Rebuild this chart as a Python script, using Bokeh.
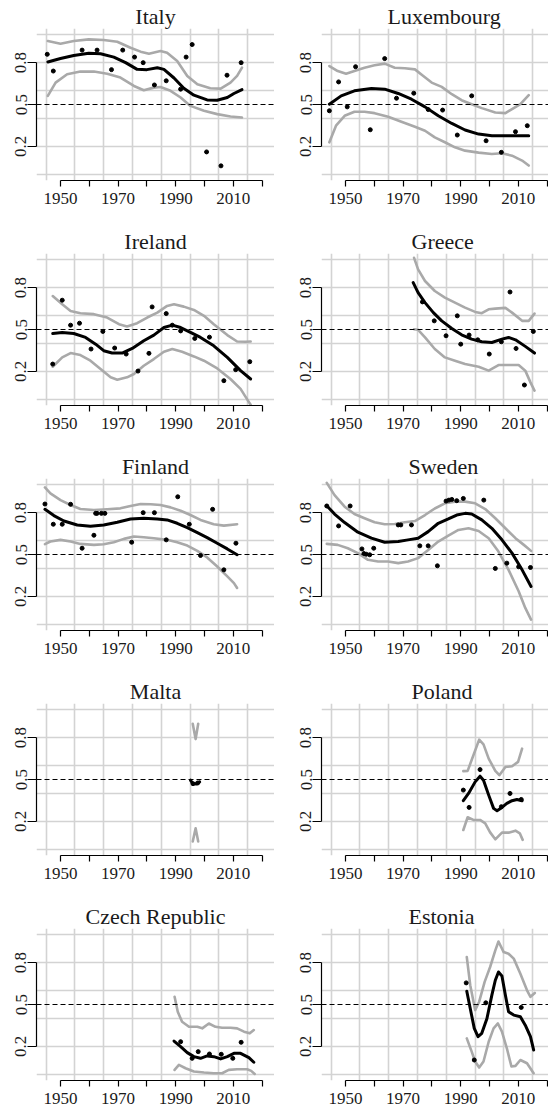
from bokeh.plotting import figure
from bokeh.models import FixedTicker, Span, Range1d
from bokeh.layouts import column, row
from bokeh.embed import file_html
from bokeh.resources import INLINE

countries = ["Italy", "Luxembourg", "Ireland", "Greece", "Finland", "Sweden",
             "Malta", "Poland", "Czech Republic", "Estonia"]

x_ticks = [1950, 1970, 1990, 2010]
x_minor = [1960, 1980, 2000, 2020]
y_ticks = [0.2, 0.5, 0.8]
x_grid = [1945, 1955, 1965, 1975, 1985, 1995, 2005, 2015, 2025]
y_grid = [0.0, 0.2, 0.4, 0.6, 0.8, 1.0]
ref_level = 0.5

# ---------------- Italy
italy_pts_x = [1945.4, 1947.5, 1957.5, 1962.7, 1967.7, 1971.6, 1975.7, 1978.7, 1982.6, 1986.7, 1991.7, 1993.6, 1995.7, 2000.7, 2005.7, 2007.8, 2012.7]
italy_pts_y = [0.86, 0.74, 0.89, 0.89, 0.75, 0.89, 0.84, 0.80, 0.64, 0.67, 0.61, 0.84, 0.93, 0.16, 0.06, 0.71, 0.80]
italy_fit_x = [1945.6, 1950, 1954.6, 1959.8, 1963.9, 1968.5, 1972.6, 1976.6, 1980, 1983.6, 1985.9, 1989.4, 1992.8, 1996.3, 2000.9, 2004.4, 2007.9, 2010.2, 2013]
italy_fit_y = [0.805, 0.83, 0.852, 0.867, 0.864, 0.84, 0.80, 0.752, 0.75, 0.764, 0.752, 0.69, 0.617, 0.567, 0.533, 0.531, 0.55, 0.579, 0.607]
italy_hi_x = [1945.6, 1950, 1954.6, 1959.8, 1965, 1969.7, 1974.3, 1977.8, 1980.7, 1984.7, 1987, 1990.5, 1994, 1997.5, 2002, 2005.6, 2009, 2011.3, 2013]
italy_hi_y = [0.955, 0.936, 0.955, 0.967, 0.962, 0.95, 0.907, 0.879, 0.864, 0.883, 0.871, 0.812, 0.705, 0.645, 0.617, 0.614, 0.657, 0.705, 0.764]
italy_lo_x = [1945.6, 1948.3, 1952.3, 1956.9, 1961.6, 1966.2, 1970.8, 1975.5, 1978.9, 1982.4, 1984.7, 1988.2, 1991.7, 1995.1, 1999.8, 2004.4, 2009, 2013]
italy_lo_y = [0.562, 0.657, 0.717, 0.736, 0.736, 0.721, 0.693, 0.633, 0.602, 0.621, 0.626, 0.598, 0.55, 0.49, 0.455, 0.431, 0.414, 0.407]

# ---------------- Luxembourg
lux_pts_x = [1944.4, 1947.6, 1950.6, 1953.5, 1958.6, 1963.6, 1967.7, 1973.7, 1978.7, 1983.7, 1988.8, 1993.8, 1998.8, 2004.1, 2009.0, 2013.1]
lux_pts_y = [0.455, 0.662, 0.483, 0.771, 0.319, 0.829, 0.545, 0.581, 0.464, 0.46, 0.281, 0.562, 0.24, 0.157, 0.305, 0.348]
lux_fit_x = [1944.4, 1948.5, 1953.1, 1959, 1963.6, 1968.3, 1972.9, 1977.6, 1982.2, 1986.9, 1991.5, 1996.2, 2000.8, 2005.5, 2010.1, 2013.6]
lux_fit_y = [0.502, 0.562, 0.598, 0.614, 0.61, 0.579, 0.538, 0.483, 0.419, 0.364, 0.317, 0.288, 0.276, 0.276, 0.276, 0.276]
lux_hi_x = [1944.4, 1947.3, 1950.2, 1953.1, 1956.6, 1960.1, 1963.6, 1967.1, 1970.6, 1974.1, 1977, 1979.9, 1983.4, 1986.9, 1990.3, 1993.8, 1997.3, 2002, 2005.5, 2007.8, 2010.7, 2013.6]
lux_hi_y = [0.776, 0.74, 0.721, 0.74, 0.764, 0.781, 0.793, 0.764, 0.76, 0.752, 0.705, 0.657, 0.626, 0.574, 0.531, 0.502, 0.474, 0.443, 0.438, 0.467, 0.502, 0.567]
lux_lo_x = [1944.4, 1946.7, 1949.7, 1953.1, 1956.6, 1960.1, 1964.8, 1969.4, 1974.1, 1977.6, 1981, 1984.5, 1988, 1991.5, 1996.2, 2000.8, 2004.3, 2007.8, 2011.3, 2013.6]
lux_lo_y = [0.229, 0.348, 0.419, 0.448, 0.448, 0.438, 0.412, 0.376, 0.34, 0.312, 0.264, 0.229, 0.193, 0.169, 0.155, 0.145, 0.15, 0.133, 0.098, 0.062]

# ---------------- Ireland
ire_pts_x = [1947.3, 1950.6, 1953.5, 1956.6, 1960.6, 1964.7, 1968.8, 1972.8, 1976.9, 1980.7, 1981.8, 1986.7, 1988.8, 1991.7, 1996.6, 2001.7, 2006.7, 2010.8, 2015.7]
ire_pts_y = [0.252, 0.71, 0.531, 0.545, 0.36, 0.486, 0.367, 0.324, 0.202, 0.329, 0.662, 0.614, 0.531, 0.49, 0.436, 0.445, 0.133, 0.212, 0.269]
ire_fit_x = [1947.3, 1950.6, 1954.6, 1958.7, 1962.2, 1965, 1967.9, 1971.4, 1974.9, 1978.9, 1982.4, 1985.9, 1988.8, 1991.7, 1995.1, 1998.6, 2003.2, 2007.9, 2012.5, 2016]
ire_fit_y = [0.471, 0.479, 0.471, 0.443, 0.395, 0.348, 0.331, 0.331, 0.364, 0.419, 0.46, 0.514, 0.531, 0.514, 0.479, 0.443, 0.383, 0.30, 0.205, 0.145]
ire_hi_x = [1947.3, 1950.6, 1953.5, 1956.9, 1961.6, 1966.2, 1970.3, 1973.1, 1976.6, 1980.1, 1983.6, 1987, 1989.4, 1992.8, 1996.3, 1999.8, 2003.2, 2007.9, 2011.3, 2014.2, 2016]
ire_hi_y = [0.74, 0.681, 0.633, 0.617, 0.61, 0.586, 0.538, 0.521, 0.545, 0.586, 0.621, 0.669, 0.681, 0.664, 0.64, 0.598, 0.538, 0.46, 0.414, 0.412, 0.414]
ire_lo_x = [1947.3, 1950.6, 1953.5, 1956.9, 1960.4, 1963.9, 1967.4, 1969.7, 1973.1, 1975.5, 1978.9, 1982.4, 1985.9, 1988.8, 1992.2, 1996.3, 1999.8, 2004.4, 2009, 2012.5, 2015.4, 2016]
ire_lo_y = [0.233, 0.30, 0.331, 0.317, 0.276, 0.217, 0.157, 0.14, 0.157, 0.181, 0.24, 0.288, 0.34, 0.36, 0.34, 0.307, 0.276, 0.221, 0.145, 0.074, -0.021, -0.04]

# ---------------- Greece
gre_pts_x = [1976.7, 1980.8, 1984.9, 1988.8, 1990.0, 1992.9, 1995.9, 1999.9, 2004.1, 2007.1, 2009.2, 2012.1, 2015.2]
gre_pts_y = [0.698, 0.562, 0.455, 0.598, 0.395, 0.46, 0.426, 0.324, 0.412, 0.769, 0.364, 0.102, 0.486]
gre_fit_x = [1973.5, 1975.2, 1977.6, 1980.5, 1983.4, 1986.9, 1990.3, 1993.8, 1997.3, 2000.8, 2004.3, 2006.6, 2009, 2012.4, 2015.6]
gre_fit_y = [0.836, 0.764, 0.693, 0.621, 0.562, 0.507, 0.462, 0.431, 0.412, 0.407, 0.431, 0.443, 0.426, 0.379, 0.331]
gre_hi_x = [1973.8, 1975.2, 1977.6, 1981, 1984.5, 1988, 1991.5, 1995, 1997.3, 1999.7, 2002, 2005.5, 2007.8, 2011.3, 2013.6, 2015.6]
gre_hi_y = [1.014, 0.931, 0.848, 0.776, 0.729, 0.693, 0.657, 0.626, 0.617, 0.645, 0.65, 0.655, 0.621, 0.562, 0.562, 0.614]
gre_lo_x = [1973.8, 1975.2, 1977.6, 1981, 1984.5, 1988, 1991.5, 1996.2, 1999.7, 2003.1, 2006.6, 2010.1, 2012.4, 2014.2, 2015.6]
gre_lo_y = [0.502, 0.498, 0.443, 0.36, 0.30, 0.276, 0.252, 0.233, 0.205, 0.245, 0.245, 0.245, 0.205, 0.121, 0.062]

# ---------------- Finland
fin_pts_x = [1944.6, 1947.5, 1950.6, 1953.5, 1957.5, 1961.6, 1962.2, 1962.7, 1964.2, 1965.4, 1974.7, 1978.7, 1982.6, 1986.7, 1990.7, 1994.7, 1998.6, 2002.8, 2006.7, 2010.9]
fin_pts_y = [0.862, 0.717, 0.717, 0.86, 0.545, 0.638, 0.795, 0.795, 0.795, 0.795, 0.588, 0.80, 0.80, 0.605, 0.914, 0.717, 0.493, 0.824, 0.39, 0.581]
fin_fit_x = [1944.6, 1947.7, 1951.2, 1955.8, 1960.4, 1965, 1969.7, 1974.3, 1978.9, 1983.6, 1987, 1990.5, 1994, 1997.5, 2000.9, 2004.4, 2007.9, 2011.3]
fin_fit_y = [0.824, 0.779, 0.74, 0.712, 0.702, 0.712, 0.731, 0.755, 0.76, 0.755, 0.748, 0.724, 0.693, 0.657, 0.621, 0.581, 0.54, 0.498]
fin_hi_x = [1944.6, 1946.5, 1950, 1953.5, 1956.9, 1961.6, 1966.2, 1970.8, 1974.3, 1977.8, 1981.3, 1984.7, 1988.2, 1991.7, 1995.1, 1998.6, 2003.2, 2006.7, 2011.3]
fin_hi_y = [0.981, 0.938, 0.89, 0.855, 0.826, 0.819, 0.824, 0.831, 0.848, 0.862, 0.86, 0.855, 0.838, 0.814, 0.783, 0.748, 0.717, 0.707, 0.717]
fin_lo_x = [1944.6, 1946.5, 1950, 1953.5, 1956.9, 1961.6, 1965, 1968.5, 1972, 1975.5, 1978.9, 1982.4, 1987, 1990.5, 1994, 1997.5, 2000.9, 2004.4, 2007.9, 2010.2, 2011.3]
fin_lo_y = [0.574, 0.593, 0.605, 0.593, 0.576, 0.569, 0.574, 0.588, 0.612, 0.629, 0.624, 0.617, 0.605, 0.588, 0.564, 0.526, 0.479, 0.414, 0.343, 0.295, 0.26]

# ---------------- Sweden
swe_pts_x = [1943.5, 1947.6, 1951.6, 1955.7, 1956.4, 1957.2, 1958.4, 1959.8, 1968.3, 1969.2, 1972.9, 1975.8, 1978.7, 1981.9, 1984.9, 1985.9, 1986.9, 1988.6, 1990.9, 1998.0, 2002.0, 2006.0, 2010.1, 2014.2]
swe_pts_y = [0.848, 0.705, 0.848, 0.54, 0.507, 0.502, 0.498, 0.545, 0.712, 0.712, 0.712, 0.562, 0.562, 0.419, 0.883, 0.89, 0.895, 0.886, 0.902, 0.89, 0.40, 0.438, 0.412, 0.407]
swe_fit_x = [1943.5, 1946.2, 1949.7, 1954.3, 1959, 1963.6, 1968.3, 1971.7, 1975.2, 1978.7, 1982.2, 1985.7, 1988.6, 1991.5, 1993.8, 1997.3, 2000.8, 2004.3, 2007.8, 2011.3, 2014.4]
swe_fit_y = [0.85, 0.79, 0.729, 0.66, 0.617, 0.588, 0.593, 0.605, 0.617, 0.664, 0.724, 0.755, 0.783, 0.795, 0.79, 0.748, 0.688, 0.605, 0.51, 0.39, 0.271]
swe_hi_x = [1943.5, 1946.2, 1949.7, 1953.1, 1956.6, 1960.1, 1963.6, 1967.1, 1970.6, 1974.1, 1977.6, 1981, 1984.5, 1988, 1991.5, 1995, 1998.5, 2002, 2005.5, 2009, 2011.9, 2014.4]
swe_hi_y = [1.014, 0.926, 0.843, 0.79, 0.76, 0.731, 0.717, 0.719, 0.731, 0.74, 0.783, 0.83, 0.867, 0.879, 0.879, 0.867, 0.826, 0.76, 0.688, 0.617, 0.569, 0.526]
swe_lo_x = [1943.5, 1947.3, 1950.8, 1954.3, 1957.8, 1961.3, 1964.8, 1968.3, 1971.7, 1975.2, 1978.7, 1982.2, 1985.7, 1989.2, 1992.7, 1996.2, 1999.7, 2003.1, 2006.6, 2010.1, 2012.4, 2014.4]
swe_lo_y = [0.576, 0.569, 0.545, 0.51, 0.462, 0.45, 0.45, 0.438, 0.45, 0.474, 0.533, 0.593, 0.636, 0.676, 0.688, 0.669, 0.617, 0.521, 0.39, 0.236, 0.117, 0.033]

# ---------------- Malta
mal_pts_x = [1996.0, 1997.6]
mal_pts_y = [0.47, 0.475]
mal_fit_x = [1995.1, 1995.9, 1997.1, 1998.3]
mal_fit_y = [0.495, 0.471, 0.467, 0.483]
mal_hi_x = [1995.9, 1996.9, 1997.8]
mal_hi_y = [0.90, 0.79, 0.90]
mal_lo_x = [1995.9, 1996.9, 1997.8]
mal_lo_y = [0.055, 0.15, 0.055]

# ---------------- Poland
pol_pts_x = [1990.9, 1992.9, 1996.7, 2004.1, 2007.1, 2011.0]
pol_pts_y = [0.424, 0.30, 0.571, 0.305, 0.40, 0.357]
pol_fit_x = [1990.9, 1992.7, 1995, 1996.7, 1997.9, 1999.7, 2001.4, 2002.6, 2004.3, 2006, 2007.8, 2009.5, 2011.3]
pol_fit_y = [0.348, 0.40, 0.483, 0.524, 0.495, 0.388, 0.293, 0.276, 0.30, 0.329, 0.348, 0.357, 0.348]
pol_hi_x = [1990.9, 1992.4, 1994.4, 1996.4, 1997.9, 1999.7, 2002, 2003.4, 2005.5, 2007.8, 2009.9, 2011.3]
pol_hi_y = [0.56, 0.562, 0.674, 0.786, 0.752, 0.65, 0.562, 0.531, 0.59, 0.595, 0.626, 0.721]
pol_lo_x = [1990.9, 1992.4, 1994.4, 1996.7, 1998.5, 2000.2, 2002, 2004.3, 2006.6, 2009, 2010.5, 2011.5]
pol_lo_y = [0.138, 0.229, 0.21, 0.21, 0.186, 0.121, 0.071, 0.119, 0.119, 0.133, 0.114, 0.067]

# ---------------- Czech Republic
cze_pts_x = [1991.7, 1995.7, 1997.8, 2001.7, 2005.8, 2009.8, 2012.7]
cze_pts_y = [0.233, 0.114, 0.162, 0.145, 0.143, 0.114, 0.229]
cze_fit_x = [1989.4, 1991.7, 1994, 1996.3, 1998.6, 2000.9, 2003.2, 2005.6, 2007.9, 2010.2, 2012.5, 2015.4, 2017.1]
cze_fit_y = [0.238, 0.198, 0.155, 0.126, 0.114, 0.131, 0.126, 0.11, 0.126, 0.15, 0.15, 0.119, 0.086]
cze_hi_x = [1989.6, 1990.7, 1992.2, 1994.6, 1997.5, 1999.2, 2001.5, 2003.8, 2006.1, 2009, 2011.3, 2013.7, 2015.7, 2017.1]
cze_hi_y = [0.555, 0.448, 0.376, 0.34, 0.34, 0.329, 0.364, 0.34, 0.333, 0.333, 0.329, 0.305, 0.293, 0.317]
cze_lo_x = [1989.6, 1991.1, 1993.4, 1996.3, 1999.8, 2003.2, 2006.1, 2008.4, 2011.3, 2014.8, 2016.2, 2017.4]
cze_lo_y = [0.031, 0.067, 0.043, 0.019, 0.012, 0.007, 0.007, 0.031, 0.036, 0.036, 0.024, 0.002]

# ---------------- Estonia
est_pts_x = [1991.9, 1994.7, 1998.7, 2011.0]
est_pts_y = [0.655, 0.102, 0.512, 0.479]
est_fit_x = [1992.1, 1993.3, 1994.7, 1996, 1997.3, 1999.1, 2000.8, 2002, 2003.1, 2004.3, 2005.5, 2006.6, 2008.4, 2010.7, 2012.4, 2014.2, 2015.3]
est_fit_y = [0.595, 0.471, 0.329, 0.269, 0.293, 0.40, 0.567, 0.674, 0.733, 0.705, 0.567, 0.448, 0.424, 0.412, 0.352, 0.269, 0.174]
est_hi_x = [1992.1, 1993.3, 1995, 1996.4, 1998.3, 2000.2, 2002, 2003.1, 2004.9, 2006.6, 2008.4, 2010.7, 2013, 2014.2, 2015.7]
est_hi_y = [0.84, 0.638, 0.46, 0.52, 0.662, 0.769, 0.888, 0.952, 0.876, 0.864, 0.829, 0.721, 0.602, 0.555, 0.583]
est_lo_x = [1992.1, 1993.8, 1995, 1996.4, 1997.9, 1999.7, 2001.4, 2002.9, 2004.3, 2006, 2007.6, 2009, 2010.7, 2013, 2015.3]
est_lo_y = [0.257, 0.162, 0.091, 0.048, 0.091, 0.233, 0.329, 0.364, 0.305, 0.186, 0.055, 0.06, 0.102, 0.079, 0.007]

series = {
    "Italy": (italy_pts_x, italy_pts_y, italy_fit_x, italy_fit_y, italy_hi_x, italy_hi_y, italy_lo_x, italy_lo_y),
    "Luxembourg": (lux_pts_x, lux_pts_y, lux_fit_x, lux_fit_y, lux_hi_x, lux_hi_y, lux_lo_x, lux_lo_y),
    "Ireland": (ire_pts_x, ire_pts_y, ire_fit_x, ire_fit_y, ire_hi_x, ire_hi_y, ire_lo_x, ire_lo_y),
    "Greece": (gre_pts_x, gre_pts_y, gre_fit_x, gre_fit_y, gre_hi_x, gre_hi_y, gre_lo_x, gre_lo_y),
    "Finland": (fin_pts_x, fin_pts_y, fin_fit_x, fin_fit_y, fin_hi_x, fin_hi_y, fin_lo_x, fin_lo_y),
    "Sweden": (swe_pts_x, swe_pts_y, swe_fit_x, swe_fit_y, swe_hi_x, swe_hi_y, swe_lo_x, swe_lo_y),
    "Malta": (mal_pts_x, mal_pts_y, mal_fit_x, mal_fit_y, mal_hi_x, mal_hi_y, mal_lo_x, mal_lo_y),
    "Poland": (pol_pts_x, pol_pts_y, pol_fit_x, pol_fit_y, pol_hi_x, pol_hi_y, pol_lo_x, pol_lo_y),
    "Czech Republic": (cze_pts_x, cze_pts_y, cze_fit_x, cze_fit_y, cze_hi_x, cze_hi_y, cze_lo_x, cze_lo_y),
    "Estonia": (est_pts_x, est_pts_y, est_fit_x, est_fit_y, est_hi_x, est_hi_y, est_lo_x, est_lo_y),
}

# title left offsets for right-column panels (left-aligned titles)
right_title_offset = {"Luxembourg": 66, "Greece": 90, "Sweden": 87, "Poland": 90, "Estonia": 87}

SERIF = "Liberation Serif"
GRID = "#d3d3d3"
BAND = "#a9a9a9"

PX_PER_YEAR = 2.881


def make_panel(name, col, last):
    left = 36 if col == 0 else 47
    width = 274
    height = 212 if last else 225
    bottom = height - 28 - 152
    x0 = 1950 - 24 / PX_PER_YEAR
    x1 = x0 + (width - left) / PX_PER_YEAR
    p = figure(width=width, height=height, x_range=Range1d(x0, x1), y_range=Range1d(-0.045, 1.045),
               output_backend="svg", toolbar_location=None, title=name,
               min_border_left=left, min_border_right=0, min_border_top=28, min_border_bottom=bottom)
    p.outline_line_color = None
    p.background_fill_color = "white"
    p.border_fill_color = "white"

    t = p.title
    t.text_font = SERIF
    t.text_font_size = "22px"
    t.text_font_style = "normal"
    t.text_color = "#1a1a1a"
    t.standoff = 0
    if col == 0:
        t.align = "center"
    else:
        t.align = "left"
        t.offset = right_title_offset[name]

    # grid
    p.xgrid.ticker = FixedTicker(ticks=x_grid)
    p.ygrid.ticker = FixedTicker(ticks=y_grid)
    for g in (p.xgrid, p.ygrid):
        g.grid_line_color = GRID
        g.grid_line_width = 1.6

    # axes
    xa = p.xaxis[0]
    xa.ticker = FixedTicker(ticks=x_ticks, minor_ticks=x_minor)
    xa.bounds = (1950, 2020)
    xa.major_tick_out = 6
    xa.major_tick_in = 0
    xa.minor_tick_out = 6
    xa.minor_tick_in = 0
    xa.minor_tick_line_color = "black"
    xa.minor_tick_line_width = 1.2
    xa.major_label_standoff = 6
    ya = p.yaxis[0]
    ya.ticker = FixedTicker(ticks=y_ticks)
    ya.bounds = (0.2, 0.8)
    ya.major_tick_out = 9
    ya.major_tick_in = 0
    ya.minor_tick_line_color = None
    ya.major_label_orientation = "vertical"
    ya.major_label_standoff = 1
    for a in (xa, ya):
        a.axis_line_color = "black"
        a.axis_line_width = 1.2
        a.major_tick_line_color = "black"
        a.major_tick_line_width = 1.2
        a.major_label_text_font = SERIF
        a.major_label_text_font_size = "17px"
        a.major_label_text_font_style = "normal"
        a.major_label_text_color = "#1a1a1a"

    p.add_layout(Span(location=ref_level, dimension="width", line_color="black",
                      line_dash="5 3", line_width=1.2))

    px, py, fx, fy, hx, hy, lx, ly = series[name]
    p.line(hx, hy, line_color=BAND, line_width=2.6, line_join="round", line_cap="round")
    p.line(lx, ly, line_color=BAND, line_width=2.6, line_join="round", line_cap="round")
    p.line(fx, fy, line_color="black", line_width=3.0, line_join="round", line_cap="round")
    p.scatter(px, py, size=4, color="black")
    return p


rows = []
for r in range(5):
    a = make_panel(countries[2 * r], 0, r == 4)
    b = make_panel(countries[2 * r + 1], 1, r == 4)
    rows.append(row(a, b, spacing=0))

layout = column(*rows, spacing=0)

open("out.html", "w").write(file_html(layout, INLINE))
